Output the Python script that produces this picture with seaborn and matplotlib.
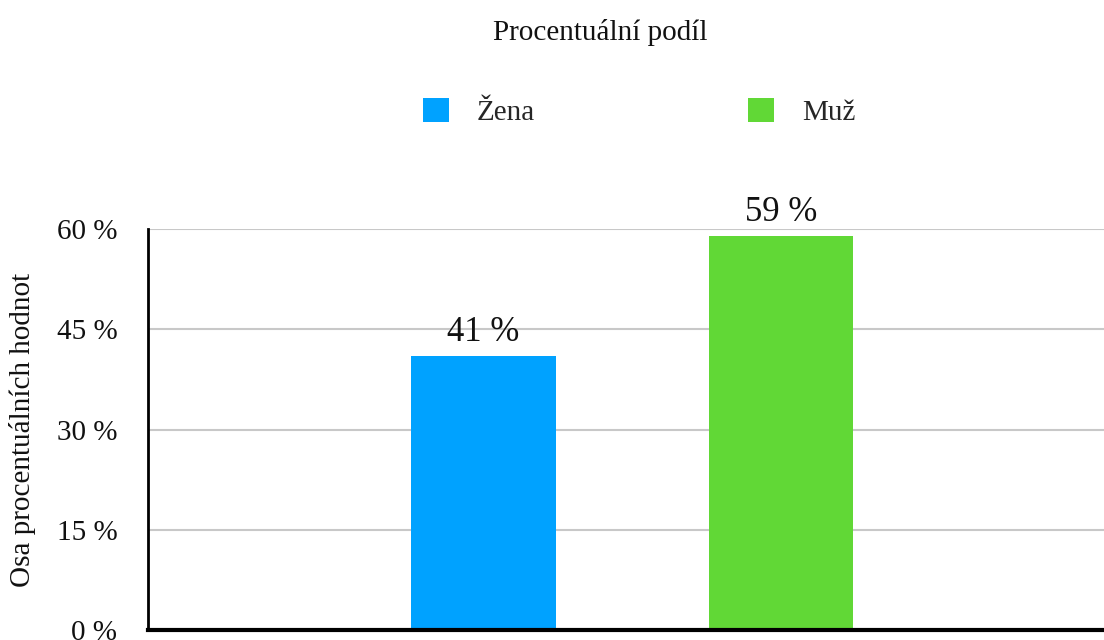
import matplotlib
matplotlib.use("Agg")
import matplotlib.pyplot as plt
import seaborn as sns
import pandas as pd

categories = ["Žena", "Muž"]
values = [41, 59]
colors = ["#00A2FF", "#61D836"]
y_ticks = [0, 15, 30, 45, 60]
y_tick_labels = ["0 %", "15 %", "30 %", "45 %", "60 %"]
title = "Procentuální podíl"
y_label = "Osa procentuálních hodnot"

sns.set_theme(style="white")
plt.rcParams["font.family"] = ["Liberation Serif", "DejaVu Serif"]

df = pd.DataFrame({"pohlavi": categories, "podil": values})

fig = plt.figure(figsize=(11.04, 6.40), dpi=100)
ax = fig.add_axes([148 / 1104, 10 / 640, 956 / 1104, 401 / 640])

sns.barplot(
    data=df,
    x="pohlavi",
    y="podil",
    hue="pohlavi",
    palette=colors,
    width=0.487,
    saturation=1,
    linewidth=0,
    legend=True,
    ax=ax
)

handles, labels = ax.get_legend_handles_labels()
ax.get_legend().remove()

for cont in ax.containers:
    ax.bar_label(
        cont,
        labels=[f"{int(round(b.get_height()))} %" for b in cont],
        padding=5,
        fontsize=25,
        color="#111111"
    )

ax.set_xlim(-1.128, 2.086)
ax.set_ylim(0, 60)
ax.set_yticks(y_ticks)
ax.set_yticklabels(y_tick_labels, fontsize=21)
ax.set_xticks([])
ax.set_xlabel("")
ax.set_ylabel("")
ax.tick_params(axis="y", length=0, pad=22, colors="#111111")

ax.yaxis.grid(True, color="#C8C8C8", linewidth=1.5)
ax.set_axisbelow(True)
for side in ["top", "right"]:
    ax.spines[side].set_visible(False)
ax.spines["left"].set_color("black")
ax.spines["left"].set_linewidth(2)
ax.spines["bottom"].set_color("black")
ax.spines["bottom"].set_linewidth(3)

fig.text(600 / 1104, 1 - 33 / 640, title, ha="center", va="center",
         fontsize=21, color="#111111")
fig.text(23 / 1104, 1 - 430 / 640, y_label, ha="center", va="center",
         rotation=90, fontsize=21, color="#111111")

fig.legend(
    handles, labels,
    loc="center",
    bbox_to_anchor=(639 / 1104, 1 - 112 / 640),
    ncol=2,
    frameon=False,
    fontsize=21,
    handlelength=0.9,
    handleheight=0.9,
    handletextpad=0.95,
    columnspacing=7.3
)

fig.savefig("out.png", dpi=100)
